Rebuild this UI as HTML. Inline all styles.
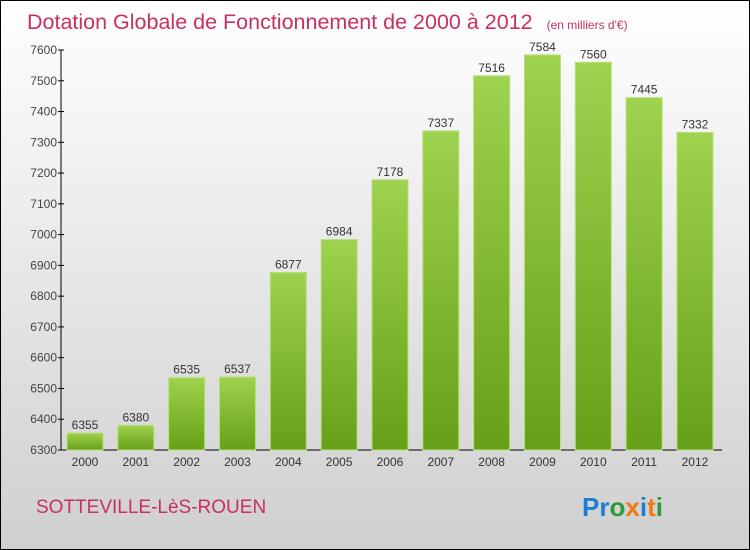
<!DOCTYPE html>
<html><head><meta charset="utf-8"><style>
body{margin:0}
#c{position:relative;width:748px;height:548px;border:1px solid #000;background:linear-gradient(#ffffff,#cfcfcf);font-family:"Liberation Sans",sans-serif;overflow:hidden}
</style></head><body>
<div id="c">
<svg id="s" width="750" height="550" style="position:absolute;left:-1px;top:-1px">
<defs><linearGradient id="g" x1="0" y1="0" x2="0" y2="1"><stop offset="0" stop-color="#9fd24e"/><stop offset="1" stop-color="#66a018"/></linearGradient></defs>
<text x="27" y="29" font-size="21.5" fill="#c8315f">Dotation Globale de Fonctionnement de 2000 à 2012 <tspan font-size="12" dx="8">(en milliers d'€)</tspan></text>
<text x="36" y="513" font-size="19" fill="#c8315f">SOTTEVILLE-LèS-ROUEN</text>
<text x="582" y="516" font-size="26" font-weight="bold"><tspan fill="#1a7fd4">Pr</tspan><tspan fill="#2a9a3a">o</tspan><tspan fill="#f07a10">x</tspan><tspan fill="#1a7fd4">i</tspan><tspan fill="#f07a10">t</tspan><tspan fill="#2a9a3a">i</tspan></text>
</svg>
</div>
<script>
const years=["2000","2001","2002","2003","2004","2005","2006","2007","2008","2009","2010","2011","2012"];
const values=[6355,6380,6535,6537,6877,6984,7178,7337,7516,7584,7560,7445,7332];
const ticks=[6300,6400,6500,6600,6700,6800,6900,7000,7100,7200,7300,7400,7500,7600];
const s=document.getElementById('s');const NS="http://www.w3.org/2000/svg";
const y=v=>450-(v-6300)*400/1300;
const x=i=>85+i*50.83;
function mk(t,a){const e=document.createElementNS(NS,t);for(const k in a)e.setAttribute(k,a[k]);s.appendChild(e);return e;}
let ax=mk('line',{x1:61,y1:50,x2:61,y2:450,stroke:'#000'});


let bx=mk('line',{x1:61,y1:450,x2:722,y2:450,stroke:'#000'});


ticks.forEach(t=>{
 mk('line',{x1:58,x2:64,y1:y(t),y2:y(t),stroke:'#000'});
 const tx=mk('text',{x:57,y:y(t)+4,'font-size':12,fill:'#444','text-anchor':'end'});tx.textContent=t;
 
 
});
years.forEach((yr,i)=>{
 const r=mk('rect',{x:x(i)-18,y:y(values[i]),width:36,height:450-y(values[i]),fill:'url(#g)',stroke:'#b8e07a','stroke-width':1});
 
 
 const v=mk('text',{x:x(i),y:y(values[i])-4,'font-size':12,fill:'#333','text-anchor':'middle'});v.textContent=values[i];
 
 
 const l=mk('text',{x:x(i),y:466,'font-size':12,fill:'#333','text-anchor':'middle'});l.textContent=yr;
 
 
});
</script>
</body></html>
